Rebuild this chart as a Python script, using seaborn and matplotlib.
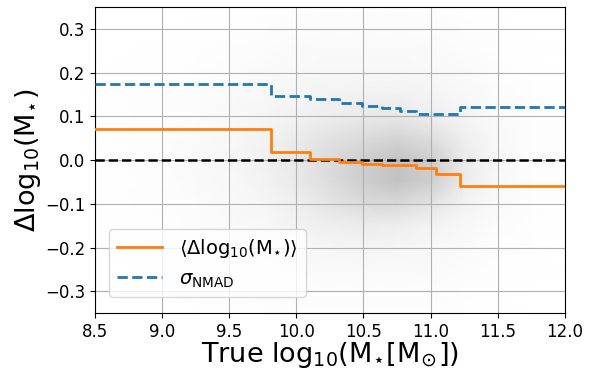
import numpy as np
import pandas as pd
import matplotlib
matplotlib.use("Agg")
import matplotlib.pyplot as plt
import seaborn as sns

# ---- data ----
bin_edges = [8.5, 9.81, 10.10, 10.32, 10.49, 10.64, 10.77, 10.89, 11.04, 11.22, 12.0]
mean_offset = [0.070, 0.019, 0.002, -0.004, -0.008, -0.011, -0.011, -0.019, -0.032, -0.060]
sigma_nmad = [0.174, 0.147, 0.140, 0.130, 0.124, 0.118, 0.113, 0.105, 0.105, 0.122]

# background point density (darkness, %), rows = y nodes, cols = x nodes
dens_x = [8.5, 8.75, 9.0, 9.25, 9.5, 9.75, 10.0, 10.25, 10.5, 10.75, 11.0, 11.25, 11.5, 11.75, 12.0]
dens_y = [-0.35, -0.30, -0.25, -0.20, -0.15, -0.10, -0.05, 0.0, 0.05, 0.10, 0.15, 0.20, 0.25, 0.30, 0.35]
dens = [
    [0, 0, 0, 0, 1, 1, 2, 2, 2, 2, 2, 1, 1, 0, 0],
    [0, 0, 0, 1, 1, 2, 3, 3, 3, 3, 3, 2, 1, 0, 0],
    [0, 0, 1, 1, 2, 3, 4, 5, 5, 5, 4, 3, 1, 1, 0],
    [0, 1, 1, 2, 3, 4, 6, 8, 9, 8, 6, 4, 2, 1, 0],
    [1, 1, 1, 3, 4, 6, 10, 13, 15, 14, 10, 6, 3, 1, 1],
    [1, 1, 2, 3, 5, 8, 13, 19, 24, 25, 19, 10, 4, 2, 1],
    [1, 1, 2, 4, 6, 10, 16, 23, 30, 35, 30, 15, 5, 2, 1],
    [1, 1, 2, 4, 7, 11, 17, 24, 30, 35, 30, 16, 6, 2, 1],
    [1, 1, 2, 4, 6, 10, 15, 20, 24, 27, 23, 13, 5, 2, 1],
    [1, 1, 2, 3, 5, 8, 11, 14, 16, 17, 14, 9, 4, 2, 1],
    [1, 1, 2, 3, 4, 6, 8, 10, 11, 11, 9, 6, 3, 1, 1],
    [0, 1, 1, 2, 3, 4, 6, 7, 7, 7, 6, 4, 2, 1, 0],
    [0, 0, 1, 1, 2, 3, 4, 5, 5, 5, 4, 3, 1, 1, 0],
    [0, 0, 0, 1, 1, 2, 3, 3, 3, 3, 3, 2, 1, 0, 0],
    [0, 0, 0, 0, 1, 1, 2, 2, 2, 2, 2, 1, 1, 0, 0],
]

# ---- figure ----
plt.rcParams["mathtext.fontset"] = "dejavusans"
fig = plt.figure(figsize=(5.96, 3.68), dpi=100)
ax = fig.add_axes([0.159, 0.149, 0.789, 0.832])

ax.pcolormesh(dens_x, dens_y, np.array(dens, dtype=float), shading="gouraud",
              cmap="Greys", vmin=0, vmax=100, zorder=0)
ax.set_axisbelow(True)
ax.grid(True, color="#b0b0b0", linewidth=0.8)

ax.axhline(0.0, color="black", linestyle="--", linewidth=1.8, zorder=2)

step_df = pd.DataFrame({
    "x": bin_edges,
    "offset": mean_offset + [mean_offset[-1]],
    "nmad": sigma_nmad + [sigma_nmad[-1]],
})
sns.lineplot(data=step_df, x="x", y="offset", ax=ax, color="#ff7f0e", linewidth=2,
             drawstyle="steps-post", estimator=None,
             label=r"$\langle\mathrm{\Delta log_{10}(M_{\!\star\!})}\rangle$", zorder=3)
sns.lineplot(data=step_df, x="x", y="nmad", ax=ax, color="#1f77b4", linewidth=2,
             linestyle="--", drawstyle="steps-post", estimator=None,
             label=r"$\sigma_{\mathrm{NMAD}}$", zorder=3)

ax.set_xlim(8.5, 12.0)
ax.set_ylim(-0.35, 0.35)
ax.set_xticks([8.5, 9.0, 9.5, 10.0, 10.5, 11.0, 11.5, 12.0])
ax.set_yticks([-0.3, -0.2, -0.1, 0.0, 0.1, 0.2, 0.3])
ax.tick_params(labelsize=12)
ax.set_xlabel(r"True $\mathrm{log_{10}(M_{\!\star\!}[M_{\!\odot\!}])}$", fontsize=19.5, labelpad=-1)
ax.set_ylabel(r"$\mathrm{\Delta log_{10}(M_{\!\star\!})}$", fontsize=19.5, labelpad=1)
ax.legend(loc="lower left", fontsize=14, handlelength=2.3, handletextpad=0.9,
          bbox_to_anchor=(0.01, 0.02))

fig.savefig("out.png", dpi=100)
